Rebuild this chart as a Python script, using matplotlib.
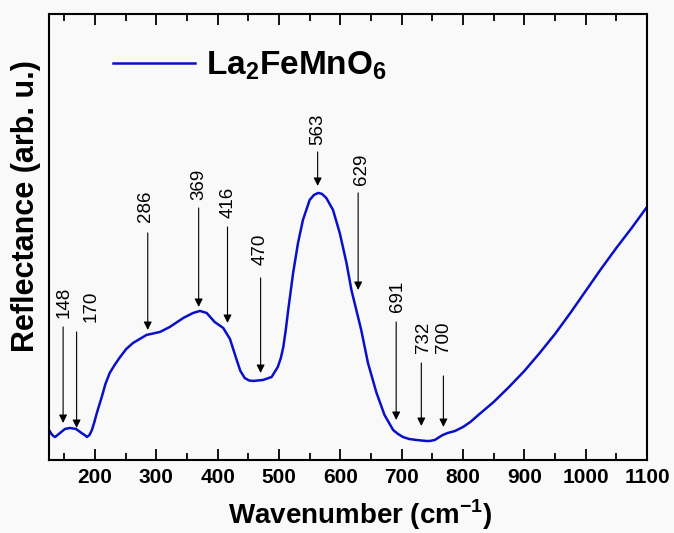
import numpy as np
import matplotlib
matplotlib.use("Agg")
import matplotlib.pyplot as plt
from matplotlib.ticker import MultipleLocator

plt.rcParams['font.family'] = ['Liberation Sans', 'DejaVu Sans']
plt.rcParams['mathtext.fontset'] = 'custom'
plt.rcParams['mathtext.rm'] = 'Liberation Sans'
plt.rcParams['mathtext.bf'] = 'Liberation Sans:bold'

# diffuse reflectance spectrum
wavenumber = [125, 129, 132, 135, 139, 143, 151, 159, 169, 178, 183, 187, 191, 195, 199, 203,
              211, 217, 224, 232, 241, 251, 262, 284, 306, 322, 344, 360, 371,
              382, 395, 409, 420, 431, 437, 444, 451, 458, 474, 488, 498,
              503, 507, 511, 515, 523, 531, 539, 550, 557, 564, 570, 577, 588, 599,
              610, 618, 626, 634, 645, 659, 672, 686, 694, 702, 712, 724,
              740, 746, 754, 759, 767, 775, 787, 800, 812, 825, 850, 875,
              900, 925, 950, 975, 1000, 1025, 1050, 1075, 1100]
reflectance = [30, 26, 24, 23, 25, 27, 31, 32, 31, 27, 25, 23, 25, 30, 38, 47,
               63, 76, 87, 95, 103, 111, 117, 125, 128, 133, 142, 147, 149,
               147, 138, 132, 121, 100, 89, 82, 79.5, 79, 80, 83, 93,
               102, 113, 130, 150, 187, 217, 240, 260, 265, 267, 266, 262, 250, 227,
               197, 170, 150, 130, 97, 67, 45, 30, 26, 23, 21, 20,
               19, 19, 20, 22, 25, 27, 29, 33, 38, 45, 58, 73,
               89, 107, 126, 147, 169, 191, 212, 232, 253]

# band positions and their labels
band_pos = [148, 170, 286, 369, 416, 470, 563, 629, 691, 732, 768]
band_text = ['148', '170', '286', '369', '416', '470', '563', '629', '691', '732', '700']

# arrow geometry (reflectance units)
arrow_top = [133, 128, 227, 252, 233, 182, 308, 267, 138, 97, 84]
arrow_tip = [37, 32, 130, 153, 137, 87, 274, 170, 40, 34, 33]
text_dx = [1, 23, -3, 0, 1, 0, 0, 5, 2, 3, 0]
text_bottom = [142, 138, 238, 260, 242, 195, 315, 275, 148, 107, 107]

fig = plt.figure(figsize=(6.74, 5.33), dpi=100, facecolor='#f9f9f9')
ax = fig.add_axes([0.0727, 0.137, 0.8873, 0.837])
ax.set_facecolor('#f9f9f9')

ax.plot(wavenumber, reflectance, color='#0a10c8', lw=1.8,
        label=r'La$_\mathbf{2}$FeMnO$_\mathbf{6}$')

for i in range(len(band_pos)):
    ax.annotate('', xy=(band_pos[i], arrow_tip[i]), xytext=(band_pos[i], arrow_top[i]),
                arrowprops=dict(arrowstyle='-|>', color='black', lw=0.8,
                                mutation_scale=12, shrinkA=0, shrinkB=0))
    ax.text(band_pos[i] + text_dx[i], text_bottom[i], band_text[i], rotation=90,
            ha='center', va='bottom', fontsize=13.5)

ax.set_xlim(125, 1100)
ax.set_ylim(0, 446)
ax.set_yticks([])
ax.xaxis.set_major_locator(MultipleLocator(100))
ax.xaxis.set_minor_locator(MultipleLocator(50))
ax.tick_params(axis='x', which='both', direction='in', top=True, width=1.3, pad=6,
               labelsize=15)
ax.tick_params(axis='x', which='major', length=8)
ax.tick_params(axis='x', which='minor', length=5)
for lab in ax.get_xticklabels():
    lab.set_fontweight('bold')
for s in ax.spines.values():
    s.set_linewidth(1.5)

ax.set_xlabel(r'Wavenumber (cm$^\mathbf{-1}$)', fontsize=20, fontweight='bold')
ax.xaxis.set_label_coords(0.52, -0.084)
ax.set_ylabel('Reflectance (arb. u.)', fontsize=22, fontweight='bold')
ax.yaxis.set_label_coords(-0.013, 0.57)

ax.legend(loc='center left', bbox_to_anchor=(0.107, 0.884), frameon=False,
          borderpad=0, borderaxespad=0, handlelength=2.45, handletextpad=0.35,
          prop={'size': 24, 'weight': 'bold'})

fig.savefig('out.png', dpi=100, facecolor=fig.get_facecolor())
